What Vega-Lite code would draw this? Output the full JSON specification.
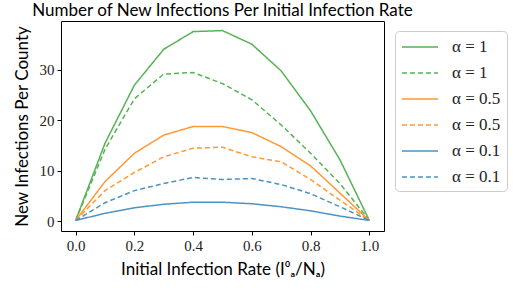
{
  "$schema": "https://vega.github.io/schema/vega-lite/v6.json",
  "width": 323,
  "height": 210,
  "autosize": {"type": "none"},
  "padding": {"left": 61, "top": 21, "right": 129, "bottom": 59},
  "background": "white",
  "title": {
    "text": "Number of New Infections Per Initial Infection Rate",
    "font": "Lato",
    "fontSize": 17,
    "fontWeight": "normal",
    "color": "black",
    "anchor": "middle",
    "offset": 1
  },
  "config": {
    "view": {"stroke": "black", "strokeWidth": 1}
  },
  "data": {
    "values": [
      {"x": 0.0, "y": 0.2, "s": "a"}, {"x": 0.1, "y": 15.5, "s": "a"}, {"x": 0.2, "y": 27.0, "s": "a"}, {"x": 0.3, "y": 34.1, "s": "a"}, {"x": 0.4, "y": 37.6, "s": "a"}, {"x": 0.5, "y": 37.8, "s": "a"}, {"x": 0.6, "y": 35.1, "s": "a"}, {"x": 0.7, "y": 29.8, "s": "a"}, {"x": 0.8, "y": 21.9, "s": "a"}, {"x": 0.9, "y": 12.2, "s": "a"}, {"x": 1.0, "y": 0.2, "s": "a"},
      {"x": 0.0, "y": 0.2, "s": "b"}, {"x": 0.1, "y": 14.3, "s": "b"}, {"x": 0.2, "y": 24.3, "s": "b"}, {"x": 0.3, "y": 29.2, "s": "b"}, {"x": 0.4, "y": 29.5, "s": "b"}, {"x": 0.5, "y": 27.3, "s": "b"}, {"x": 0.6, "y": 24.1, "s": "b"}, {"x": 0.7, "y": 19.1, "s": "b"}, {"x": 0.8, "y": 13.5, "s": "b"}, {"x": 0.9, "y": 7.5, "s": "b"}, {"x": 1.0, "y": 0.2, "s": "b"},
      {"x": 0.0, "y": 0.2, "s": "c"}, {"x": 0.1, "y": 7.9, "s": "c"}, {"x": 0.2, "y": 13.5, "s": "c"}, {"x": 0.3, "y": 17.1, "s": "c"}, {"x": 0.4, "y": 18.8, "s": "c"}, {"x": 0.5, "y": 18.8, "s": "c"}, {"x": 0.6, "y": 17.6, "s": "c"}, {"x": 0.7, "y": 14.8, "s": "c"}, {"x": 0.8, "y": 11.0, "s": "c"}, {"x": 0.9, "y": 5.6, "s": "c"}, {"x": 1.0, "y": 0.2, "s": "c"},
      {"x": 0.0, "y": 0.2, "s": "d"}, {"x": 0.1, "y": 6.1, "s": "d"}, {"x": 0.2, "y": 9.7, "s": "d"}, {"x": 0.3, "y": 12.8, "s": "d"}, {"x": 0.4, "y": 14.5, "s": "d"}, {"x": 0.5, "y": 14.7, "s": "d"}, {"x": 0.6, "y": 12.8, "s": "d"}, {"x": 0.7, "y": 11.8, "s": "d"}, {"x": 0.8, "y": 8.3, "s": "d"}, {"x": 0.9, "y": 4.2, "s": "d"}, {"x": 1.0, "y": 0.2, "s": "d"},
      {"x": 0.0, "y": 0.2, "s": "e"}, {"x": 0.1, "y": 1.6, "s": "e"}, {"x": 0.2, "y": 2.7, "s": "e"}, {"x": 0.3, "y": 3.4, "s": "e"}, {"x": 0.4, "y": 3.8, "s": "e"}, {"x": 0.5, "y": 3.8, "s": "e"}, {"x": 0.6, "y": 3.5, "s": "e"}, {"x": 0.7, "y": 2.9, "s": "e"}, {"x": 0.8, "y": 2.1, "s": "e"}, {"x": 0.9, "y": 1.05, "s": "e"}, {"x": 1.0, "y": 0.2, "s": "e"},
      {"x": 0.0, "y": 0.2, "s": "f"}, {"x": 0.1, "y": 3.7, "s": "f"}, {"x": 0.2, "y": 6.1, "s": "f"}, {"x": 0.3, "y": 7.5, "s": "f"}, {"x": 0.4, "y": 8.7, "s": "f"}, {"x": 0.5, "y": 8.3, "s": "f"}, {"x": 0.6, "y": 8.5, "s": "f"}, {"x": 0.7, "y": 7.3, "s": "f"}, {"x": 0.8, "y": 5.5, "s": "f"}, {"x": 0.9, "y": 2.9, "s": "f"}, {"x": 1.0, "y": 0.2, "s": "f"}
    ]
  },
  "mark": {"type": "line", "strokeWidth": 1.5, "clip": true},
  "encoding": {
    "x": {
      "field": "x", "type": "quantitative",
      "scale": {"domain": [-0.05, 1.05], "nice": false, "zero": false},
      "axis": {
        "values": [0, 0.2, 0.4, 0.6, 0.8, 1.0], "format": ".1f",
        "title": "Initial Infection Rate (I⁰ₐ/Nₐ)",
        "titleFont": "Lato", "titleFontSize": 17, "titleFontWeight": "normal", "titleColor": "black", "titlePadding": 8,
        "labelFont": "'Liberation Serif', 'DejaVu Serif', serif", "labelFontSize": 15, "labelColor": "#222", "labelPadding": 3,
        "tickColor": "black", "tickSize": 4, "domain": false, "grid": false
      }
    },
    "y": {
      "field": "y", "type": "quantitative",
      "scale": {"domain": [-1.9, 39.7], "nice": false, "zero": false},
      "axis": {
        "values": [0, 10, 20, 30],
        "title": "New Infections Per County",
        "titleFont": "Lato", "titleFontSize": 17, "titleFontWeight": "normal", "titleColor": "black", "titlePadding": 8,
        "labelFont": "'Liberation Serif', 'DejaVu Serif', serif", "labelFontSize": 15, "labelColor": "#222", "labelPadding": 3,
        "tickColor": "black", "tickSize": 4, "domain": false, "grid": false
      }
    },
    "color": {
      "field": "s", "type": "nominal",
      "scale": {"domain": ["a", "b", "c", "d", "e", "f"], "range": ["#56b356", "#56b356", "#ff9933", "#ff9933", "#4c92c3", "#4c92c3"]},
      "legend": {
        "title": null, "orient": "none", "legendX": 334, "legendY": 10,
        "symbolType": "M-1,0H3", "symbolSize": 324, "symbolStrokeWidth": 1.5,
        "labelFont": "'Liberation Serif', 'DejaVu Serif', serif", "labelFontSize": 17, "labelColor": "#222",
        "labelExpr": "{'a':'α = 1','b':'α = 1','c':'α = 0.5','d':'α = 0.5','e':'α = 0.1','f':'α = 0.1'}[datum.value]",
        "rowPadding": 8, "padding": 6, "strokeColor": "#cccccc", "cornerRadius": 4, "fillColor": "white",
        "labelOffset": 31
      }
    },
    "strokeDash": {
      "field": "s", "type": "nominal",
      "scale": {"domain": ["a", "b", "c", "d", "e", "f"], "range": [[1, 0], [5, 3], [1, 0], [5, 3], [1, 0], [5, 3]]},
      "legend": null
    }
  }
}
